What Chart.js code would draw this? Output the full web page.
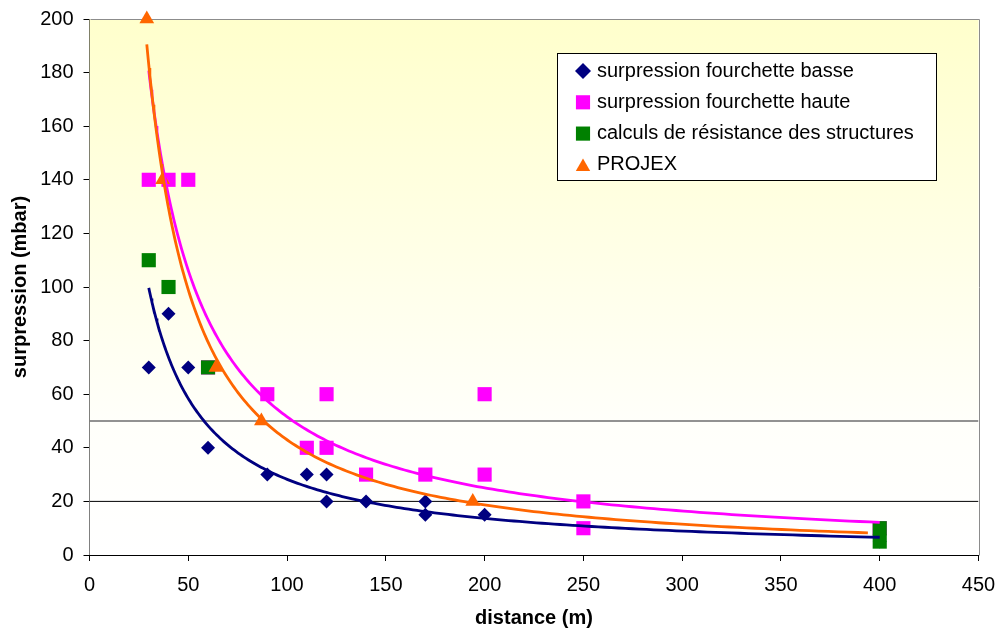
<!DOCTYPE html>
<html>
<head>
<meta charset="utf-8">
<script src="https://cdn.jsdelivr.net/npm/chart.js@4.4.0/dist/chart.umd.min.js"></script>
<style>
  html, body { margin: 0; padding: 0; background: #fff; }
  canvas { display: block; }
</style>
</head>
<body>
<canvas id="chart" width="999" height="630"></canvas>
<script>
// ===== DATA =====
const basseX = [30, 40, 50, 60, 90, 110, 120, 120, 140, 170, 170, 200, 400];
const basseY = [70, 90, 70, 40, 30, 30, 30, 20, 20, 20, 15, 15, 5];

const hauteX = [30, 40, 50, 60, 90, 110, 120, 120, 140, 170, 200, 200, 250, 250, 400];
const hauteY = [140, 140, 140, 70, 60, 40, 60, 40, 30, 30, 60, 30, 20, 10, 10];

const structX = [30, 40, 60, 400, 400];
const structY = [110, 100, 70, 10, 5];

const projexX = [29, 37, 64, 87, 194];
const projexY = [200, 140, 70, 50, 20];

// extrémité droite des courbes de tendance (m)
const basseTrendEnd = 400;
const hauteTrendEnd = 400;
const projexTrendEnd = 394;

// lignes de seuil (mbar)
const seuils = [20, 50];

const xMin = 0, xMax = 450, xStep = 50;
const yMin = 0, yMax = 200, yStep = 20;

const seriesLabels = [
    'surpression fourchette basse',
    'surpression fourchette haute',
    'calculs de résistance des structures',
    'PROJEX'
];

const NAVY = '#000080';
const PINK = '#FF00FF';
const GREEN = '#008000';
const ORANGE = '#FF6600';
const FONT = '"Liberation Sans", Arial, sans-serif';

// ===== HELPERS =====
const pts = (xs, ys) => xs.map((x, i) => ({ x, y: ys[i] }));

// régression puissance y = a * x^b (comme la courbe de tendance Excel)
function powerFit(xs, ys) {
    const n = xs.length;
    let sx = 0, sy = 0, sxx = 0, sxy = 0;
    for (let i = 0; i < n; i++) {
        const lx = Math.log(xs[i]), ly = Math.log(ys[i]);
        sx += lx; sy += ly; sxx += lx * lx; sxy += lx * ly;
    }
    const b = (n * sxy - sx * sy) / (n * sxx - sx * sx);
    const a = Math.exp((sy - b * sx) / n);
    return { a, b };
}

function trendPoints(xs, ys, xEnd) {
    const { a, b } = powerFit(xs, ys);
    const x0 = Math.min(...xs);
    const out = [];
    const steps = 200;
    for (let i = 0; i <= steps; i++) {
        const x = x0 * Math.pow(xEnd / x0, i / steps);
        out.push({ x, y: a * Math.pow(x, b) });
    }
    return out;
}

function markers(label, data, style, radius, color, order) {
    return {
        label, data, order,
        pointStyle: style,
        pointRadius: radius,
        pointHoverRadius: radius,
        backgroundColor: color,
        borderColor: color,
        borderWidth: 0,
        showLine: false,
        clip: false,
        inLegend: true
    };
}

function trend(data, color, order) {
    return {
        data, order,
        showLine: true,
        borderColor: color,
        borderWidth: 2.8,
        pointRadius: 0,
        tension: 0,
        clip: false
    };
}

function seuil(y, color, width) {
    return {
        data: [{ x: xMin, y }, { x: xMax, y }],
        order: 20,
        showLine: true,
        borderColor: color,
        borderWidth: width,
        pointRadius: 0
    };
}

// ===== PLUGINS =====
const plotBackground = {
    id: 'plotBackground',
    beforeDatasetsDraw(chart) {
        const { ctx, chartArea: a } = chart;
        ctx.save();
        const g = ctx.createLinearGradient(0, a.top, 0, a.bottom);
        g.addColorStop(0, '#FFFFCC');
        g.addColorStop(0.75, '#FFFFFA');
        g.addColorStop(1, '#FFFFFF');
        ctx.fillStyle = g;
        ctx.fillRect(a.left, a.top, a.right - a.left, a.bottom - a.top);
        // cadre de la zone de tracé
        ctx.strokeStyle = '#8C8C8C';
        ctx.lineWidth = 1;
        ctx.beginPath();
        ctx.moveTo(Math.round(a.left) + 0.5, Math.round(a.top) + 0.5);
        ctx.lineTo(Math.round(a.right) + 0.5, Math.round(a.top) + 0.5);
        ctx.lineTo(Math.round(a.right) + 0.5, Math.round(a.bottom) + 0.5);
        ctx.stroke();
        ctx.restore();
    }
};

const boxLegend = {
    id: 'boxLegend',
    afterDraw(chart) {
        const ctx = chart.ctx;
        const items = chart.data.datasets.filter(d => d.inLegend);
        const sizes = { rectRot: 8, rect: 10, triangle: 8.3 };
        ctx.save();
        ctx.fillStyle = '#fff';
        ctx.strokeStyle = '#000';
        ctx.lineWidth = 1;
        ctx.fillRect(557.5, 53.5, 379, 127);
        ctx.strokeRect(557.5, 53.5, 379, 127);
        ctx.font = '20px ' + FONT;
        ctx.textBaseline = 'middle';
        items.forEach((d, i) => {
            const y = 71 + i * 31.3;
            ctx.fillStyle = d.backgroundColor;
            Chart.helpers.drawPoint(ctx, {
                pointStyle: d.pointStyle,
                radius: sizes[d.pointStyle],
                rotation: 0,
                borderWidth: 0
            }, 583, d.pointStyle === 'triangle' ? y + 2 : y);
            ctx.fillStyle = '#000';
            ctx.fillText(d.label, 597, y);
        });
        ctx.restore();
    }
};

// ===== CHART =====
const ctx = document.getElementById('chart').getContext('2d');

new Chart(ctx, {
    type: 'scatter',
    data: {
        datasets: [
            trend(trendPoints(projexX, projexY, projexTrendEnd), ORANGE, 0),
            trend(trendPoints(hauteX, hauteY, hauteTrendEnd), PINK, 1),
            trend(trendPoints(basseX, basseY, basseTrendEnd), NAVY, 2),
            markers(seriesLabels[0], pts(basseX, basseY), 'rectRot', 7, NAVY, 9),
            markers(seriesLabels[1], pts(hauteX, hauteY), 'rect', 10, PINK, 8),
            markers(seriesLabels[2], pts(structX, structY), 'rect', 10, GREEN, 7),
            markers(seriesLabels[3], pts(projexX, projexY), 'triangle', 8.5, ORANGE, 6),
            seuil(seuils[0], '#000000', 1),
            seuil(seuils[1], '#6E6E6E', 1.6)
        ]
    },
    options: {
        responsive: false,
        animation: false,
        events: [],
        layout: { padding: { top: 19, right: 20.5, left: 0, bottom: 0 } },
        plugins: {
            legend: { display: false },
            tooltip: { enabled: false }
        },
        scales: {
            x: {
                type: 'linear',
                min: xMin, max: xMax,
                afterFit: (s) => { s.height = 75; s.paddingLeft = 0; s.paddingRight = 0; },
                ticks: {
                    stepSize: xStep,
                    color: '#000',
                    font: { family: FONT, size: 20 },
                    padding: 12,
                    maxRotation: 0
                },
                grid: { drawOnChartArea: false, drawTicks: true, tickLength: 6, color: '#000' },
                border: { color: '#000' },
                title: {
                    display: true,
                    text: 'distance (m)',
                    color: '#000',
                    font: { family: FONT, size: 20, weight: 'bold' },
                    padding: { top: 0, bottom: 0 }
                }
            },
            y: {
                min: yMin, max: yMax,
                afterFit: (s) => { s.width = 89.5; s.paddingTop = 0; s.paddingBottom = 0; },
                ticks: {
                    stepSize: yStep,
                    color: '#000',
                    font: { family: FONT, size: 20 },
                    padding: 10
                },
                grid: { drawOnChartArea: false, drawTicks: true, tickLength: 6, color: '#000' },
                border: { color: '#000' },
                title: {
                    display: true,
                    text: 'surpression (mbar)',
                    color: '#000',
                    font: { family: FONT, size: 20, weight: 'bold' },
                    padding: { top: 8, bottom: 0 }
                }
            }
        }
    },
    plugins: [plotBackground, boxLegend]
});
</script>
</body>
</html>
